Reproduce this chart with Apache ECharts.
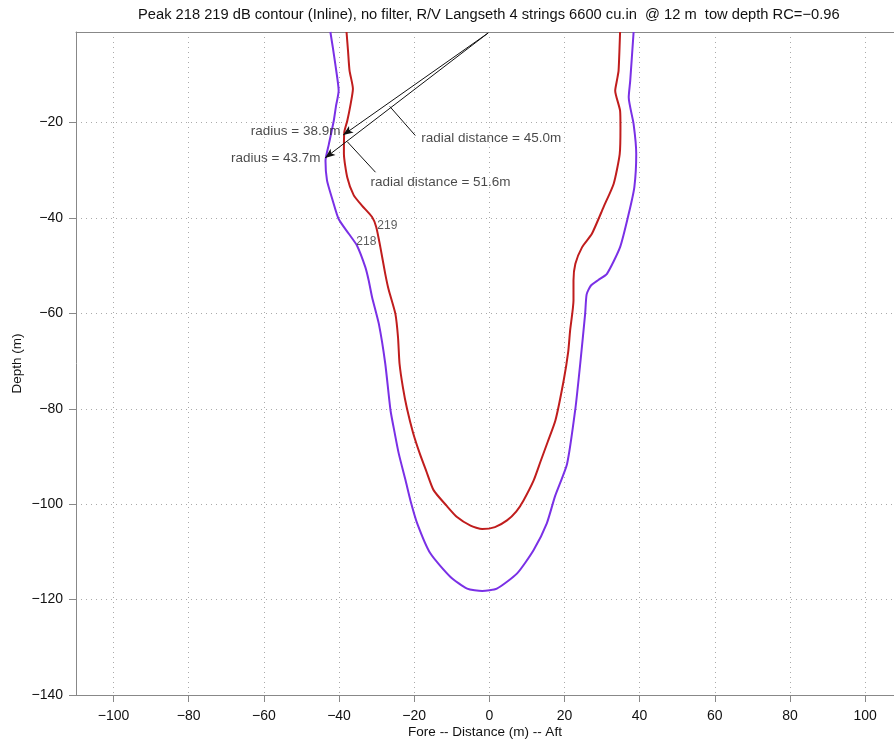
<!DOCTYPE html>
<html>
<head>
<meta charset="utf-8">
<script src="https://cdn.jsdelivr.net/npm/echarts@6/dist/echarts.min.js"></script>
<style>
  html, body { margin: 0; padding: 0; background: #fff; }
  #chart { width: 894px; height: 742px; }
</style>
</head>
<body>
<div id="chart"></div>
<script>
// contour 219 dB (red), points [distance, depth]
const contour219 = [
  [-38.0, -1], [-37.6, -5], [-37.2, -9.1], [-36.3, -12.9], [-37.0, -16.5], [-37.8, -19.6],
  [-38.6, -22.0], [-38.7, -26.5], [-37.8, -31.5], [-36.1, -35.2], [-33.9, -37.4], [-31.2, -39.8],
  [-30.1, -41.9], [-29.0, -46.1], [-27.7, -51.7], [-26.8, -55], [-25.0, -60.1], [-24.3, -65],
  [-23.9, -70.5], [-23.0, -75.5], [-21.9, -80], [-20.3, -85], [-18.5, -89.4], [-16.8, -93],
  [-14.8, -97.1], [-11.4, -100.3], [-8.6, -102.7], [-5, -104.5], [-1.9, -105.2], [1.5, -104.8],
  [4.7, -103.4], [7.2, -101.5], [9.1, -99.2], [11.8, -95], [13.6, -91.1], [15.6, -86.8],
  [17.6, -82.4], [19.8, -74], [21.0, -68], [21.5, -63.6], [22.4, -57.3], [22.4, -53.1],
  [22.9, -49.6], [24.7, -46.1], [27.3, -43.3], [30.4, -37.7], [33.1, -32.8], [34.7, -26.6],
  [34.9, -21], [34.8, -17.5], [33.5, -13.3], [34.0, -11], [34.4, -9.1], [34.8, -1]
];

// contour 218 dB (purple)
const contour218 = [
  [-42.3, -1], [-41.6, -4.5], [-41.0, -7.7], [-40.1, -13.3], [-40.8, -16.5], [-41.4, -19.6],
  [-42.7, -24.5], [-43.6, -28], [-43.2, -32.1], [-41.8, -36.0], [-40.1, -40.2], [-37.4, -43.3],
  [-35.2, -45.8], [-33.0, -50.3], [-32.1, -53.1], [-31.2, -56.6], [-29.4, -62.2], [-27.7, -70.5],
  [-26.3, -80.3], [-25.2, -85], [-24.1, -89.4], [-22.3, -95], [-21.0, -99.2], [-19.2, -104],
  [-15.7, -110.3], [-10.4, -115.2], [-5.9, -117.7], [-1.9, -118.2], [2.0, -117.7], [7.4, -114.5],
  [11.8, -109.6], [15.3, -104], [17.5, -98.3], [20.7, -91.5], [22.9, -80], [24.2, -70.5],
  [25.5, -60.1], [25.9, -56], [27.0, -54.2], [29.0, -53], [31.3, -51.7], [34.8, -46.1],
  [37.1, -39.1], [38.6, -33.5], [39.1, -26.6], [38.4, -20.3], [37.1, -14.7], [37.5, -11.2],
  [38.4, -1]
];

// radius / radial distance annotations
const arrowStart = [-0.3, -1.2];
const arrowTips = [[-38.9, -22.6], [-43.7, -27.4]];
const leaderLines = [
  [[-26.5, -16.6], [-19.7, -22.7]],
  [[-37.8, -24.0], [-30.3, -30.4]]
];
const noteTexts = ['radius = 38.9m', 'radius = 43.7m', 'radial distance = 45.0m', 'radial distance = 51.6m', '219', '218'];
const noteCoords = [[-39.6, -21.9], [-44.9, -27.5], [-18.1, -23.2], [-31.6, -32.5], [-29.8, -41.6], [-35.4, -44.9]];
const noteSides = ['left', 'left', 'right', 'right', 'right', 'right'];

const fmtMinus = (v) => String(v).replace('-', '\u2212');

const chart = echarts.init(document.getElementById('chart'));

const markLineData = [];
arrowTips.forEach(tip => {
  markLineData.push([
    { coord: arrowStart, symbol: 'none' },
    { coord: tip, symbol: 'arrow', symbolSize: [6, 10] }
  ]);
});
leaderLines.forEach(seg => {
  markLineData.push([
    { coord: seg[0], symbol: 'none' },
    { coord: seg[1], symbol: 'none' }
  ]);
});

// plot is cut at the right edge of the picture, near x = 107.7
const X_MIN = -110, X_MAX = 107.7;

const option = {
  animation: false,
  backgroundColor: '#fff',
  textStyle: { fontFamily: 'Liberation Sans, Arial, sans-serif' },
  title: {
    text: 'Peak 218 219 dB contour (Inline), no filter, R/V Langseth 4 strings 6600 cu.in  @ 12 m  tow depth RC=\u22120.96',
    left: 133,
    top: 2,
    textStyle: { fontSize: 14.7, fontWeight: 'normal', color: '#111' }
  },
  grid: {
    left: 76,
    top: 32,
    bottom: 47,
    right: 0,
    show: false,
    outerBoundsMode: 'none'
  },
  xAxis: [
    {
      type: 'value',
      min: X_MIN,
      max: X_MAX,
      splitNumber: 11,
      name: 'Fore -- Distance (m) -- Aft',
      nameLocation: 'middle',
      nameGap: 30,
      nameMoveOverlap: false,
      nameTextStyle: { fontSize: 13.5, color: '#111' },
      axisLine: { onZero: false, lineStyle: { color: '#888', width: 1 } },
      axisTick: { show: true, length: 7, lineStyle: { color: '#888' } },
      axisLabel: { fontSize: 14, color: '#111', margin: 14, showMinLabel: false, showMaxLabel: false, formatter: fmtMinus },
      splitLine: { show: true, lineStyle: { color: '#aaa', type: [1, 4], width: 1 } }
    },
    {
      type: 'value',
      position: 'top',
      min: X_MIN,
      max: X_MAX,
      axisLine: { onZero: false, lineStyle: { color: '#888', width: 1 } },
      axisTick: { show: false },
      axisLabel: { show: false },
      splitLine: { show: false }
    }
  ],
  yAxis: {
    type: 'value',
    min: -140,
    max: -1,
    splitNumber: 7,
    name: 'Depth (m)',
    nameLocation: 'middle',
    nameGap: 52,
    nameMoveOverlap: false,
    nameTextStyle: { fontSize: 13.5, color: '#111' },
    axisLine: { onZero: false, lineStyle: { color: '#888', width: 1 } },
    axisTick: { show: true, length: 7, lineStyle: { color: '#888' } },
    axisLabel: { fontSize: 14, color: '#111', margin: 13, showMaxLabel: false, formatter: fmtMinus },
    splitLine: { show: true, lineStyle: { color: '#aaa', type: [1, 4], width: 1 } }
  },
  series: [
    {
      name: '219',
      type: 'line',
      data: contour219,
      symbol: 'none',
      smooth: 0.2,
      lineStyle: { color: '#c01d1d', width: 2 },
      z: 3
    },
    {
      name: '218',
      type: 'line',
      data: contour218,
      symbol: 'none',
      smooth: 0.2,
      lineStyle: { color: '#7a30e6', width: 2 },
      z: 3
    },
    {
      name: 'notes',
      type: 'scatter',
      symbolSize: 0,
      silent: true,
      z: 5,
      data: noteTexts.map((t, i) => ({
        name: t,
        value: noteCoords[i],
        label: {
          show: true,
          position: noteSides[i],
          distance: 0,
          formatter: '{b}',
          fontSize: i >= 4 ? 12 : 13.5,
          color: i >= 4 ? '#333' : '#1a1a1a'
        }
      })),
      markLine: {
        silent: true,
        animation: false,
        label: { show: false },
        lineStyle: { color: '#111', width: 1, type: 'solid' },
        data: markLineData
      }
    }
  ]
};

chart.setOption(option);
</script>
</body>
</html>
